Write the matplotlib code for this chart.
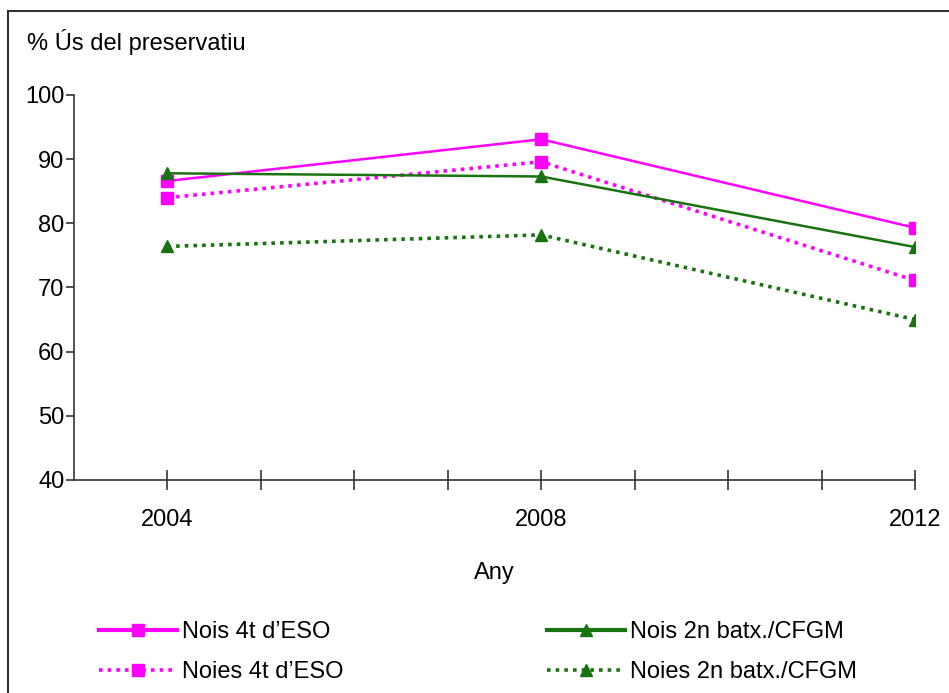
import matplotlib
matplotlib.use("Agg")
import matplotlib.pyplot as plt
from matplotlib.lines import Line2D

plt.rcParams['font.family'] = ['Liberation Sans Narrow', 'Liberation Sans', 'DejaVu Sans']

# data
years = [2004, 2008, 2012]
nois_eso = [86.6, 93.1, 79.3]
noies_eso = [84.0, 89.6, 71.1]
nois_batx = [87.8, 87.3, 76.3]
noies_batx = [76.4, 78.2, 65.0]
labels = ["Nois 4t d\u2019ESO", "Noies 4t d\u2019ESO",
          "Nois 2n batx./CFGM", "Noies 2n batx./CFGM"]

pink = '#ff00ff'
green = '#1a7312'
dot = (0, (1.0, 1.4))

fig = plt.figure(figsize=(9.49, 6.93), dpi=100)
ax = fig.add_axes([74/949, 1-480/693, (915-74)/949, 385/693])

ax.plot(years, nois_eso, color=pink, lw=1.8, marker='s', ms=8.5, label=labels[0])
ax.plot(years, noies_eso, color=pink, lw=2.6, ls=dot, marker='s', ms=8.5, label=labels[1])
ax.plot(years, nois_batx, color=green, lw=1.8, marker='^', ms=9, label=labels[2])
ax.plot(years, noies_batx, color=green, lw=2.6, ls=dot, marker='^', ms=9, label=labels[3])

ax.set_xlim(2003, 2012)
ax.set_ylim(40, 100)
ax.set_yticks(range(40, 101, 10))
ax.set_xticks(range(2004, 2013))
ax.set_xticklabels([str(y) if y in (2004, 2008, 2012) else '' for y in range(2004, 2013)])
ax.spines['top'].set_visible(False)
ax.spines['right'].set_visible(False)
for s in ('left', 'bottom'):
    ax.spines[s].set_color('#333333')
    ax.spines[s].set_linewidth(1.2)
ax.tick_params(axis='y', direction='out', length=6, width=1.2, color='#333333',
               labelsize=17, pad=1)
ax.tick_params(axis='x', direction='inout', length=14, width=1.2, color='#333333',
               labelsize=17, pad=14)
ax.set_xlabel('Any', fontsize=17, labelpad=22)

fig.text(27/949, 1-42/693, '% \u00das del preservatiu', fontsize=17, va='center', ha='left')

# frame lines on left and top
fig.add_artist(Line2D([8/949, 8/949], [0, 1-11/693], color='#333333', lw=1.5))
fig.add_artist(Line2D([8/949, 1], [1-11/693, 1-11/693], color='#333333', lw=1.5))

h, l = ax.get_legend_handles_labels()
legs = []
for hh, ll, x0 in ((h[:2], l[:2], 90), (h[2:], l[2:], 538)):
    leg = fig.legend(hh, ll, loc='upper left', bbox_to_anchor=(x0/949, 1-612/693),
                     frameon=False, fontsize=17, handlelength=3.3, handletextpad=0.2,
                     labelspacing=0.75, borderaxespad=0)
    for ln in leg.get_lines():
        if ln.get_linestyle() == '-':
            ln.set_linewidth(3)
    legs.append(leg)

fig.savefig('out.png', dpi=100)
